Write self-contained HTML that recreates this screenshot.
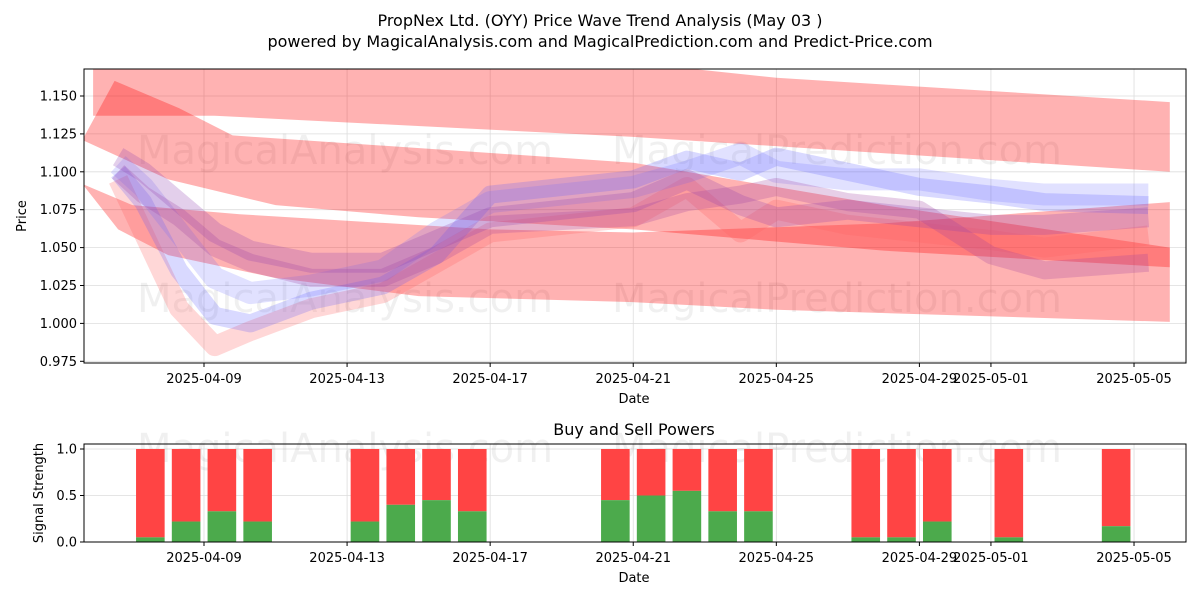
<!DOCTYPE html>
<html><head><meta charset="utf-8"><style>
body{margin:0;background:#fff;font-family:"Liberation Sans","DejaVu Sans",sans-serif}
svg text{font-family:"DejaVu Sans","Liberation Sans",sans-serif}
</style></head><body>
<svg id="c" width="1200" height="600" xmlns="http://www.w3.org/2000/svg">
<rect width="1200" height="600" fill="#fff"/>
<defs><clipPath id="cp1"><rect x="84" y="69" width="1102" height="294"/></clipPath></defs>
<text x="600" y="26" text-anchor="middle" font-size="16">PropNex Ltd. (OYY) Price Wave Trend Analysis (May 03 )</text>
<text x="600" y="47" text-anchor="middle" font-size="16">powered by MagicalAnalysis.com and MagicalPrediction.com and Predict-Price.com</text>
<text x="634" y="435" text-anchor="middle" font-size="16">Buy and Sell Powers</text>
<g id="topG"></g><g id="botG"></g>
</svg>
<script>
// ---- data ----
const xTickDays=[9,13,17,21,25,29,31,35];
const xTickLabels=["2025-04-09","2025-04-13","2025-04-17","2025-04-21","2025-04-25","2025-04-29","2025-05-01","2025-05-05"];
const yTicks=[0.975,1.000,1.025,1.050,1.075,1.100,1.125,1.150];
const bandATop=[[5.9,1.175],[21,1.172],[25,1.162],[36.0,1.146]];
const bandABot=[[36.0,1.100],[21,1.123],[9.3,1.137],[5.9,1.137]];
const bandBTop=[[6.5,1.160],[8.3,1.142],[9.8,1.124],[21,1.106],[28,1.078],[36.0,1.050]];
const bandBBot=[[36.0,1.037],[28,1.048],[21,1.062],[15,1.070],[11,1.078],[8,1.095],[5.6,1.121]];
const bandCTop=[[5.6,1.092],[7,1.078],[10,1.072],[17,1.062],[21,1.060],[28,1.066],[36.0,1.080]];
const bandCBot=[[36.0,1.001],[25,1.009],[21,1.014],[15,1.018],[11,1.030],[8,1.045],[6.6,1.062]];
const waveDays=[6.6,7.3,8.3,9.3,10.3,12,14,15.5,17,21,22.5,24,25,27,29,31,32.5,35.4];
const wave1=[1.100,1.080,1.035,1.005,1.000,1.015,1.025,1.045,1.085,1.095,1.108,1.100,1.110,1.100,1.090,1.085,1.080,1.078];
const wave2=[1.105,1.090,1.060,1.030,1.020,1.025,1.035,1.060,1.080,1.090,1.100,1.112,1.100,1.095,1.095,1.088,1.085,1.085];
const wave3=[1.110,1.100,1.080,1.060,1.048,1.040,1.040,1.055,1.070,1.080,1.095,1.078,1.070,1.075,1.070,1.065,1.065,1.070];
const wave4=[1.095,1.060,1.010,0.985,0.995,1.010,1.020,1.040,1.060,1.070,1.090,1.060,1.075,1.065,1.060,1.055,1.050,1.058];
const wave5=[1.100,1.085,1.070,1.050,1.040,1.030,1.030,1.045,1.065,1.070,1.080,1.085,1.090,1.080,1.075,1.045,1.035,1.040];
const barDays=[8,9,10,11,14,15,16,17,21,22,23,24,25,28,29,30,32,35];
const buyValues=[0.05,0.22,0.33,0.22,0.22,0.40,0.45,0.33,0.45,0.50,0.55,0.33,0.33,0.05,0.05,0.22,0.05,0.17];
const powerTicks=[0.0,0.5,1.0];
const powerTickLabels=["0.0","0.5","1.0"];
// ---- scales ----
const L=84,R=1186,T1=69,B1=363,T2=444,B2=542;
const X=d=>204+(d-9)*35.77;
const Y=v=>96+(1.150-v)/0.025*37.9;
const Y2=v=>542-v*93;
const NS="http://www.w3.org/2000/svg";
function mk(p,tag,at){const e=document.createElementNS(NS,tag);for(const k in at)e.setAttribute(k,at[k]);p.appendChild(e);return e;}
const topG=document.getElementById('topG'),botG=document.getElementById('botG');
// grid
xTickDays.forEach((d,i)=>{
 let g=mk(topG,'line',{x1:X(d),x2:X(d),y1:T1,y2:B1,stroke:'#ddd','stroke-width':0.8});
 
 
 let g2=mk(botG,'line',{x1:X(d),x2:X(d),y1:T2,y2:B2,stroke:'#ddd','stroke-width':0.8});
 
 
 mk(topG,'line',{x1:X(d),x2:X(d),y1:B1,y2:B1+4,stroke:'#000'});
 mk(botG,'line',{x1:X(d),x2:X(d),y1:B2,y2:B2+4,stroke:'#000'});
 let t=mk(topG,'text',{x:X(d),y:B1+20,'text-anchor':'middle','font-size':13});t.textContent=xTickLabels[i];
 
 
 let t2=mk(botG,'text',{x:X(d),y:B2+20,'text-anchor':'middle','font-size':13});t2.textContent=xTickLabels[i];
 
 
});
yTicks.forEach(v=>{
 mk(topG,'line',{x1:L,x2:R,y1:Y(v),y2:Y(v),stroke:'#ddd','stroke-width':0.8});
 mk(topG,'line',{x1:L-4,x2:L,y1:Y(v),y2:Y(v),stroke:'#000'});
 let t=mk(topG,'text',{x:L-7,y:Y(v)+4.5,'text-anchor':'end','font-size':13});t.textContent=v.toFixed(3);
 
 
});
powerTicks.forEach((v,i)=>{
 mk(botG,'line',{x1:L,x2:R,y1:Y2(v),y2:Y2(v),stroke:'#ddd','stroke-width':0.8});
 mk(botG,'line',{x1:L-4,x2:L,y1:Y2(v),y2:Y2(v),stroke:'#000'});
 let t=mk(botG,'text',{x:L-7,y:Y2(v)+4.5,'text-anchor':'end','font-size':13});t.textContent=powerTickLabels[i];
 
 
});
// watermarks
[[345,150,'MagicalAnalysis.com'],[837,150,'MagicalPrediction.com'],[345,298,'MagicalAnalysis.com'],[837,298,'MagicalPrediction.com'],[345,448,'MagicalAnalysis.com'],[837,448,'MagicalPrediction.com']].forEach(w=>{
 let t=mk(w[1]>400?botG:topG,'text',{x:w[0],y:w[1]+14,'text-anchor':'middle','font-size':40,fill:'#000','fill-opacity':0.06});t.textContent=w[2];
 
 
});
// bands
const cg=mk(topG,'g',{'clip-path':'url(#cp1)'});
function band(a,b,name){const pts=a.concat(b).map(p=>X(p[0])+','+Y(p[1])).join(' ');
 let e=mk(cg,'polygon',{points:pts,fill:'#ff0000','fill-opacity':0.3});
 
 }
band(bandATop,bandABot,'upper-trend-band');
band(bandCTop,bandCBot,'lower-trend-band');
band(bandBTop,bandBBot,'middle-trend-band');
function wave(vals,col,op,w,name){const pts=vals.map((v,i)=>X(waveDays[i])+','+Y(v)).join(' ');
 let e=mk(cg,'polyline',{points:pts,fill:'none',stroke:col,'stroke-opacity':op,'stroke-width':w,'stroke-linejoin':'round'});
 
 }
wave(wave4,'#ff6060',0.25,20,'wave-band-4');
wave(wave1,'#5050ff',0.22,18,'wave-band-1');
wave(wave2,'#6a6aff',0.2,22,'wave-band-2');
wave(wave5,'#a040a0',0.25,18,'wave-band-5');
wave(wave3,'#9040b0',0.25,20,'wave-band-3');
// bars
barDays.forEach((d,i)=>{
 const cx=X(d-0.5),w=28.6;
 let r=mk(botG,'rect',{x:cx-w/2,y:Y2(1),width:w,height:Y2(buyValues[i])-Y2(1),fill:'#ff4444'});
 
 
 let g=mk(botG,'rect',{x:cx-w/2,y:Y2(buyValues[i]),width:w,height:Y2(0)-Y2(buyValues[i]),fill:'#4caa4c'});
 
 
});
// frames and axis titles
let f1=mk(topG,'rect',{x:L,y:T1,width:R-L,height:B1-T1,fill:'none',stroke:'#000','stroke-width':1});


let f2=mk(botG,'rect',{x:L,y:T2,width:R-L,height:B2-T2,fill:'none',stroke:'#000','stroke-width':1});


let a1=mk(topG,'text',{x:634,y:403,'text-anchor':'middle','font-size':13});a1.textContent='Date';


let a2=mk(botG,'text',{x:634,y:582,'text-anchor':'middle','font-size':13});a2.textContent='Date';


let a3=mk(topG,'text',{x:26,y:216,'text-anchor':'middle','font-size':13,transform:'rotate(-90 26 216)'});a3.textContent='Price';


let a4=mk(botG,'text',{x:43,y:493,'text-anchor':'middle','font-size':13,transform:'rotate(-90 43 493)'});a4.textContent='Signal Strength';


</script>
</body></html>
